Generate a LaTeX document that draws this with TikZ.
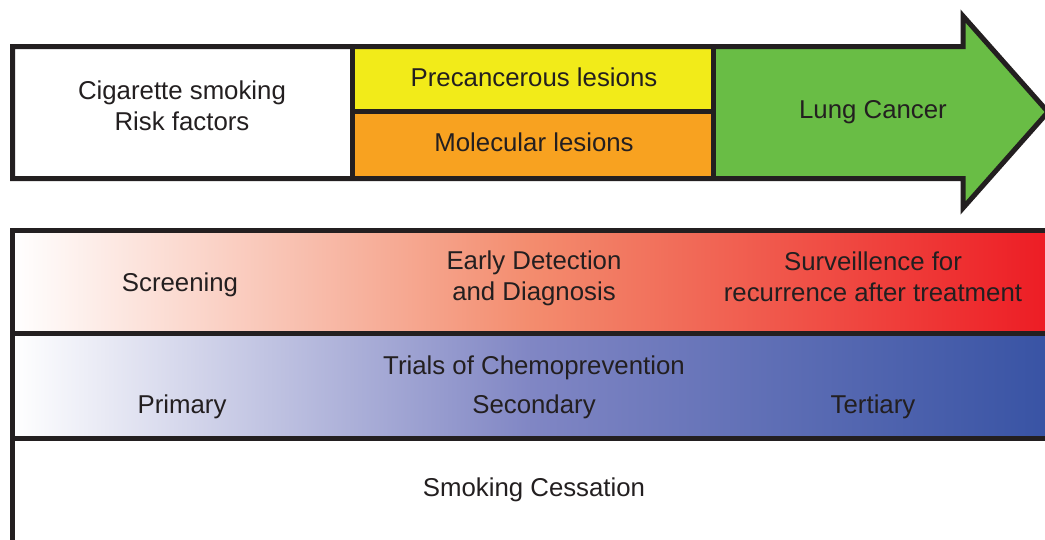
\documentclass[tikz,border=0pt]{standalone}
\usepackage{fontspec}
\setmainfont{Liberation Sans}
\definecolor{ink}{HTML}{231F20}
\definecolor{yellowlesion}{HTML}{F2EB19}
\definecolor{orangelesion}{HTML}{F8A220}
\definecolor{greencancer}{HTML}{69BD45}
\definecolor{salmonmid}{RGB}{243,140,110}
\definecolor{redend}{RGB}{237,28,36}
\definecolor{bluemid}{RGB}{128,134,196}
\definecolor{blueend}{RGB}{56,83,164}
\tikzset{
  edge/.style={draw=ink, line width=5pt, line join=miter},
  lbl/.style={font=\fontsize{25.8}{31}\selectfont, text=ink, align=center, inner sep=0pt}
}
\begin{document}
\begin{tikzpicture}[x=1pt,y=-1pt]
			\useasboundingbox (0,0) rectangle (1045,539);
			\clip (0,0) rectangle (1045,539);
			\fill[white] (12.5,46.5) rectangle (352,178.5);
			\fill[yellowlesion] (352,46.5) rectangle (713,111);
			\fill[orangelesion] (352,111) rectangle (713,178.5);
			\fill[greencancer] (713,46.5) -- (963,46.5) -- (963,16) -- (1048,112) -- (963,208) -- (963,178.5) -- (713,178.5) -- cycle;
			\draw[edge] (12.5,46.5) -- (963,46.5) -- (963,16) -- (1048,112) -- (963,208) -- (963,178.5) -- (12.5,178.5) -- cycle;
			\draw[edge] (352,46.5) -- (352,178.5);
			\draw[edge] (713,46.5) -- (713,178.5);
			\draw[edge] (352,111) -- (713,111);
			
			\fill[left color=white, right color=redend, middle color=salmonmid] (12.5,230.5) rectangle (1050,333.5);
			\fill[left color=white, right color=blueend, middle color=bluemid] (12.5,333.5) rectangle (1050,438.5);
			\draw[edge] (1050,230.5) -- (12.5,230.5) -- (12.5,545);
			\draw[edge] (12.5,333.5) -- (1050,333.5);
			\draw[edge] (12.5,438.5) -- (1050,438.5);
			
			\node[lbl] (smoking) at (182,106) {Cigarette smoking\\Risk factors};
			\node[lbl] (precancer) at (534,77) {Precancerous lesions};
			\node[lbl] (molecular) at (534,142) {Molecular lesions};
			\node[lbl] (cancer) at (873,112) {Lung Cancer};
			\node[lbl] (screening) at (180,285) {Screening};
			\node[lbl] (detection) at (534,278) {Early Detection\\and Diagnosis};
			\node[lbl] (surveil) at (873,277) {Surveillence for\\recurrence after treatment};
			\node[lbl] (trials) at (534,368) {Trials of Chemoprevention};
			\node[lbl] (primary) at (182,407) {Primary};
			\node[lbl] (secondary) at (534,407) {Secondary};
			\node[lbl] (tertiary) at (873,407) {Tertiary};
			\node[lbl] (cessation) at (534,490) {Smoking Cessation};
\end{tikzpicture}
\end{document}
